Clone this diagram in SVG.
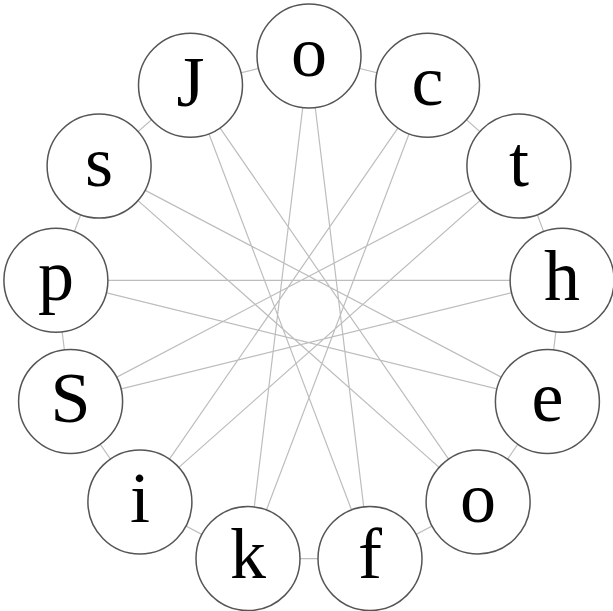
<svg xmlns="http://www.w3.org/2000/svg" width="613" height="611" viewBox="0 0 613 611">
<style>
.e{stroke:#bdbdbd;stroke-width:1.2;fill:none}
.n circle{fill:#fff;stroke:#555;stroke-width:1.5}
.n text{font-family:"Liberation Serif","Times New Roman",serif;font-size:72px;fill:#000;text-anchor:middle}
</style>
<rect width="613" height="611" fill="#fff"/>
<g id="connectors" class="e">
<polygon points="309,56 427.5,85.2 518.9,166.1 562.1,280.3 547.4,401.4 478.1,501.9 370,558.6 248,558.6 139.9,501.9 70.6,401.4 55.9,280.3 99.1,166.1 190.5,85.2"/>
<polygon points="309,56 370,558.6 190.5,85.2 478.1,501.9 99.1,166.1 547.4,401.4 55.9,280.3 562.1,280.3 70.6,401.4 518.9,166.1 139.9,501.9 427.5,85.2 248,558.6"/>
</g>
<g id="n0" class="n"><circle cx="309" cy="56" r="52"/><text x="309" y="76">o</text></g>
<g id="n1" class="n"><circle cx="427.5" cy="85.2" r="52"/><text x="427.5" y="105">c</text></g>
<g id="n2" class="n"><circle cx="518.9" cy="166.1" r="52"/><text x="518.9" y="186">t</text></g>
<g id="n3" class="n"><circle cx="562.1" cy="280.3" r="52"/><text x="562.1" y="300">h</text></g>
<g id="n4" class="n"><circle cx="547.4" cy="401.4" r="52"/><text x="547.4" y="421">e</text></g>
<g id="n5" class="n"><circle cx="478.1" cy="501.9" r="52"/><text x="478.1" y="522">o</text></g>
<g id="n6" class="n"><circle cx="370" cy="558.6" r="52"/><text x="370" y="578">f</text></g>
<g id="n7" class="n"><circle cx="248" cy="558.6" r="52"/><text x="248" y="578">k</text></g>
<g id="n8" class="n"><circle cx="139.9" cy="501.9" r="52"/><text x="139.9" y="522">i</text></g>
<g id="n9" class="n"><circle cx="70.6" cy="401.4" r="52"/><text x="70.6" y="422">S</text></g>
<g id="n10" class="n"><circle cx="55.9" cy="280.3" r="52"/><text x="55.9" y="300">p</text></g>
<g id="n11" class="n"><circle cx="99.1" cy="166.1" r="52"/><text x="99.1" y="186">s</text></g>
<g id="n12" class="n"><circle cx="190.5" cy="85.2" r="52"/><text x="190.5" y="106">J</text></g>
</svg>
